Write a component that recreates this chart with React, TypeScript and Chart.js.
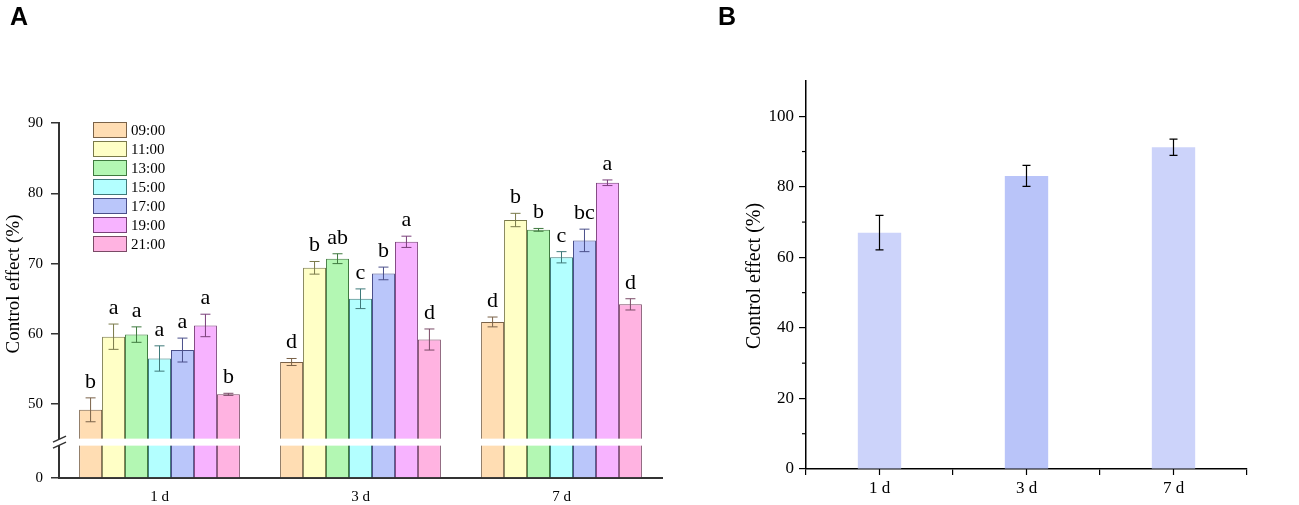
import { useEffect, useRef } from "react";
import { Chart, LinearScale, registerables } from "chart.js";
import type { ChartConfiguration, Plugin, Scale } from "chart.js";

Chart.register(...registerables);
Chart.defaults.font.family = "'Liberation Serif', serif";
Chart.defaults.color = "#000";

const dayLabels = ["1 d", "3 d", "7 d"];
const timeLabels = ["09:00", "11:00", "13:00", "15:00", "17:00", "19:00", "21:00"];

// panel A: control effect (%) per spraying time, values for 1 d, 3 d, 7 d
const effect0900 = [49.2, 56.0, 61.7];
const effect1100 = [59.6, 69.4, 76.2];
const effect1300 = [59.9, 70.7, 74.8];
const effect1500 = [56.5, 65.0, 70.9];
const effect1700 = [57.7, 68.6, 73.3];
const effect1900 = [61.2, 73.1, 81.5];
const effect2100 = [51.4, 59.2, 64.2];

const error0900 = [1.7, 0.5, 0.7];
const error1100 = [1.8, 0.9, 0.95];
const error1300 = [1.1, 0.7, 0.2];
const error1500 = [1.8, 1.4, 0.8];
const error1700 = [1.7, 0.9, 1.6];
const error1900 = [1.6, 0.8, 0.4];
const error2100 = [0.15, 1.5, 0.8];

const letters0900 = ["b", "d", "d"];
const letters1100 = ["a", "b", "b"];
const letters1300 = ["a", "ab", "b"];
const letters1500 = ["a", "c", "c"];
const letters1700 = ["a", "b", "bc"];
const letters1900 = ["a", "a", "a"];
const letters2100 = ["b", "d", "d"];

const yTicksA = [0, 50, 60, 70, 80, 90];

// panel B: overall control effect
const effectB = [67.0, 83.1, 91.2];
const errorB = [4.9, 3.0, 2.3];
const yTicksB = [0, 20, 40, 60, 80, 100];
const yMinorB = [10, 30, 50, 70, 90];

const seriesA = [effect0900, effect1100, effect1300, effect1500, effect1700, effect1900, effect2100];
const errorsA = [error0900, error1100, error1300, error1500, error1700, error1900, error2100];
const lettersA = [letters0900, letters1100, letters1300, letters1500, letters1700, letters1900, letters2100];

const fillA = ["#FFDDB3", "#FFFFC6", "#B3F7B3", "#B3FFFF", "#BAC6FA", "#F7B3FF", "#FFB3E1"];
const edgeA = ["#7a6248", "#7a7a4a", "#3f7a3f", "#3f7a7a", "#4a4f8a", "#7a3f7a", "#7a4a66"];

// broken axis: values >= BREAK_AT sit above the break, the gap below is squeezed
const BREAK_AT = 44.6;
const BREAK_POS = 5.1;
const toAxis = (v: number) => (v >= BREAK_AT ? v - BREAK_AT + BREAK_POS : (v * BREAK_POS) / BREAK_AT);
const fromAxis = (d: number) => (d >= BREAK_POS ? d - BREAK_POS + BREAK_AT : (d * BREAK_AT) / BREAK_POS);

class BrokenLinearScale extends LinearScale {
    static id = "brokenLinear";
    getPixelForValue(value: number) {
        return super.getPixelForValue(toAxis(value));
    }
    getValueForPixel(pixel: number) {
        return fromAxis(super.getValueForPixel(pixel) as number);
    }
}
Chart.register(BrokenLinearScale);

const panelAPlugin: Plugin = {
    id: "panelA",
    afterDatasetsDraw: (chart: Chart) => {
        const ctx = chart.ctx;
        const y = chart.scales.y;
        const area = chart.chartArea;

        // white band through the bars at the break
        const yb = y.getPixelForValue(BREAK_AT);
        ctx.save();
        ctx.fillStyle = "#fff";
        ctx.fillRect(area.left + 1, yb - 3.5, area.right - area.left, 7);
        ctx.fillRect(area.left - 3, yb - 3, 6, 6);
        ctx.strokeStyle = "#333";
        ctx.lineWidth = 1.5;
        for (const off of [-3, 3]) {
            ctx.beginPath();
            ctx.moveTo(area.left - 6, yb + off + 3);
            ctx.lineTo(area.left + 7, yb + off - 3);
            ctx.stroke();
        }

        // error bars and letters
        chart.data.datasets.forEach((_ds, di) => {
            const meta = chart.getDatasetMeta(di);
            meta.data.forEach((bar, i) => {
                const v = seriesA[di][i];
                const e = errorsA[di][i];
                const top = y.getPixelForValue(v + e);
                const bot = y.getPixelForValue(v - e);
                ctx.strokeStyle = edgeA[di];
                ctx.lineWidth = 1;
                ctx.beginPath();
                ctx.moveTo(bar.x, top);
                ctx.lineTo(bar.x, bot);
                ctx.moveTo(bar.x - 5, top);
                ctx.lineTo(bar.x + 5, top);
                ctx.moveTo(bar.x - 5, bot);
                ctx.lineTo(bar.x + 5, bot);
                ctx.stroke();
                ctx.fillStyle = "#000";
                ctx.font = "22px 'Liberation Serif'";
                ctx.textAlign = "center";
                ctx.textBaseline = "alphabetic";
                ctx.fillText(lettersA[di][i], bar.x, top - 10);
            });
        });

        // legend inside the plot
        const lx = area.left + 34;
        chart.data.datasets.forEach((ds, di) => {
            const ly = area.top - 1 + di * 19;
            ctx.fillStyle = fillA[di];
            ctx.fillRect(lx, ly, 34, 16);
            ctx.strokeStyle = edgeA[di];
            ctx.lineWidth = 1;
            ctx.strokeRect(lx + 0.5, ly + 0.5, 33, 15);
            ctx.fillStyle = "#000";
            ctx.font = "15px 'Liberation Serif'";
            ctx.textAlign = "left";
            ctx.textBaseline = "middle";
            ctx.fillText(ds.label as string, lx + 38, ly + 9);
        });

        // axis title
        ctx.translate(14, 284);
        ctx.rotate(-Math.PI / 2);
        ctx.font = "19px 'Liberation Serif'";
        ctx.textAlign = "center";
        ctx.textBaseline = "middle";
        ctx.fillText("Control effect (%)", 0, 0);
        ctx.restore();
    }
};

const panelBPlugin: Plugin = {
    id: "panelB",
    afterDatasetsDraw: (chart: Chart) => {
        const ctx = chart.ctx;
        const y = chart.scales.y;
        const area = chart.chartArea;
        const meta = chart.getDatasetMeta(0);
        ctx.save();
        ctx.strokeStyle = "#000";
        ctx.lineWidth = 1.2;
        meta.data.forEach((bar, i) => {
            const top = y.getPixelForValue(effectB[i] + errorB[i]);
            const bot = y.getPixelForValue(effectB[i] - errorB[i]);
            ctx.beginPath();
            ctx.moveTo(bar.x, top);
            ctx.lineTo(bar.x, bot);
            ctx.moveTo(bar.x - 4, top);
            ctx.lineTo(bar.x + 4, top);
            ctx.moveTo(bar.x - 4, bot);
            ctx.lineTo(bar.x + 4, bot);
            ctx.stroke();
            // tick under each category
            ctx.beginPath();
            ctx.moveTo(bar.x, area.bottom);
            ctx.lineTo(bar.x, area.bottom + 6);
            ctx.stroke();
        });
        for (const m of yMinorB) {
            const py = y.getPixelForValue(m);
            ctx.beginPath();
            ctx.moveTo(area.left - 4, py);
            ctx.lineTo(area.left, py);
            ctx.stroke();
        }
        ctx.translate(55, 276);
        ctx.rotate(-Math.PI / 2);
        ctx.fillStyle = "#000";
        ctx.font = "20px 'Liberation Serif'";
        ctx.textAlign = "center";
        ctx.textBaseline = "middle";
        ctx.fillText("Control effect (%)", 0, 0);
        ctx.restore();
    }
};

function configA(): ChartConfiguration {
    return {
        type: "bar",
        data: {
            labels: dayLabels,
            datasets: seriesA.map((vals, di) => ({
                label: timeLabels[di],
                data: vals,
                backgroundColor: fillA[di],
                borderColor: edgeA[di],
                borderWidth: 1,
                categoryPercentage: 0.8,
                barPercentage: 1.0
            }))
        },
        options: {
            responsive: false,
            animation: false,
            events: [],
            layout: { padding: { left: 0, top: 123, right: 38, bottom: 0 } },
            scales: {
                x: {
                    grid: { display: false, drawTicks: false },
                    border: { display: true, color: "#333", width: 2 },
                    ticks: { font: { size: 15 }, padding: 10 },
                    afterFit: (s: Scale) => { s.height = 27; }
                },
                y: {
                    type: "brokenLinear" as any,
                    min: 0,
                    max: toAxis(90),
                    bounds: "data",
                    grid: { drawOnChartArea: false, drawTicks: true, tickLength: 8, color: "#333", lineWidth: 1.5 },
                    border: { display: true, color: "#333", width: 2 },
                    ticks: { font: { size: 15 }, padding: 8, callback: (v: any) => String(v) },
                    afterBuildTicks: (s: Scale) => { s.ticks = yTicksA.map((v) => ({ value: v })); },
                    afterFit: (s: Scale) => { s.width = 59; }
                }
            } as any,
            plugins: { legend: { display: false }, tooltip: { enabled: false } }
        },
        plugins: [panelAPlugin]
    };
}

function configB(): ChartConfiguration {
    return {
        type: "bar",
        data: {
            labels: dayLabels,
            datasets: [{
                label: "Control effect",
                data: effectB,
                backgroundColor: ["#CCD3FA", "#B9C4F9", "#CCD3FA"],
                borderWidth: 0,
                categoryPercentage: 1.0,
                barPercentage: 0.295
            }]
        },
        options: {
            responsive: false,
            animation: false,
            events: [],
            layout: { padding: { left: 0, top: 81, right: 52, bottom: 0 } },
            scales: {
                x: {
                    grid: { drawOnChartArea: false, drawTicks: true, tickLength: 6, color: "#000", lineWidth: 1.2, offset: true },
                    border: { display: true, color: "#000", width: 1.5 },
                    ticks: { font: { size: 17 }, padding: 3 },
                    afterFit: (s: Scale) => { s.height = 36; }
                },
                y: {
                    min: 0,
                    max: 110,
                    grid: { drawOnChartArea: false, drawTicks: true, tickLength: 7, color: "#000", lineWidth: 1.2 },
                    border: { display: true, color: "#000", width: 1.5 },
                    ticks: { font: { size: 17 }, padding: 5, callback: (v: any) => String(v) },
                    afterBuildTicks: (s: Scale) => { s.ticks = yTicksB.map((v) => ({ value: v })); },
                    afterFit: (s: Scale) => { s.width = 106; }
                }
            },
            plugins: { legend: { display: false }, tooltip: { enabled: false } }
        },
        plugins: [panelBPlugin]
    };
}

const ChartCanvas: React.FC<{ makeConfig: () => ChartConfiguration, left: number, width: number }> = ({ makeConfig, left, width }) => {
    const canvasRef = useRef<HTMLCanvasElement>(null);

    useEffect(() => {
        if (!canvasRef.current) {
            return;
        }
        const chart = new Chart(canvasRef.current, makeConfig());
        return () => {
            chart.destroy();
        };
    }, [makeConfig]);

    return (
        <canvas
            ref={canvasRef}
            width={width}
            height={505}
            style={{ position: "absolute", left, top: 0, width, height: 505 }}
        />
    );
};

const panelLetter: React.CSSProperties = {
    position: "absolute",
    top: 4,
    font: "bold 25px 'Liberation Sans', Arial, sans-serif",
    lineHeight: "25px",
    color: "#000"
};

export default function App() {
    return (
        <div style={{ position: "fixed", left: 0, top: 0, width: 1299, height: 505, background: "#fff", overflow: "hidden" }}>
            <ChartCanvas makeConfig={configA} left={0} width={700} />
            <ChartCanvas makeConfig={configB} left={700} width={599} />
            <div style={{ ...panelLetter, left: 10 }}>A</div>
            <div style={{ ...panelLetter, left: 718 }}>B</div>
        </div>
    );
}
